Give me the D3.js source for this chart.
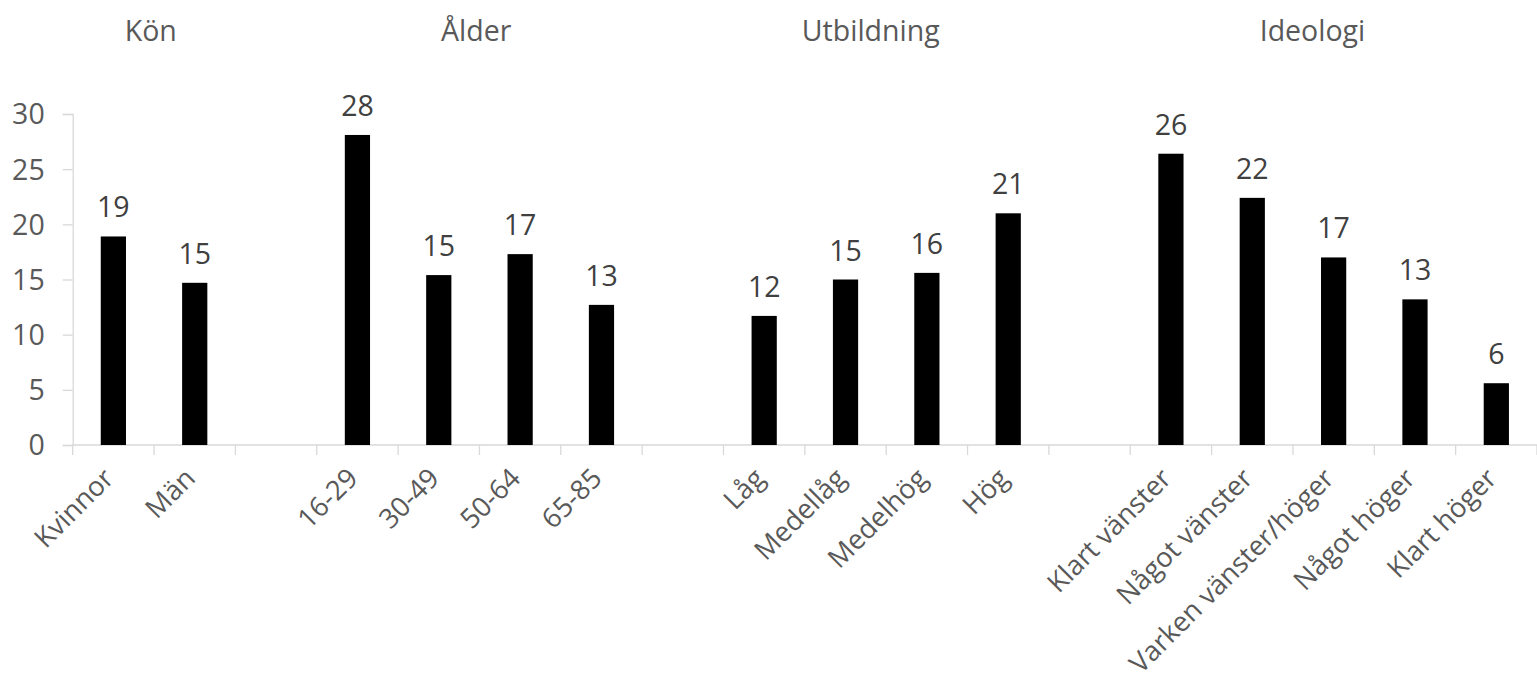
<!DOCTYPE html>
<html>
<head>
<meta charset="utf-8">
<script src="https://cdn.jsdelivr.net/npm/d3@7"></script>
<style>
  html, body { margin: 0; padding: 0; background: #fff; }
  svg { display: block; font-family: "Open Sans", sans-serif; }
</style>
</head>
<body>
<svg id="chart" width="1537" height="683"></svg>
<script>
// ---- data ----
const categories = ["Kvinnor", "Män", "", "16-29", "30-49", "50-64", "65-85", "",
  "Låg", "Medellåg", "Medelhög", "Hög", "",
  "Klart vänster", "Något vänster", "Varken vänster/höger", "Något höger", "Klart höger"];
const values = [18.9, 14.7, null, 28.1, 15.4, 17.3, 12.7, null,
  11.7, 15.0, 15.6, 21.0, null,
  26.4, 22.4, 17.0, 13.2, 5.6];
const yTicks = [0, 5, 10, 15, 20, 25, 30];
const groupTitles = ["Kön", "Ålder", "Utbildning", "Ideologi"];
// position of each group title, in slot units (fractional slot index)
const groupTitleSlots = [0.46, 4.46, 9.31, 14.74];

(function () {
// ---- layout ----
const svg = d3.select("#chart");
const plotLeft = 72.7, plotRight = 1537, plotTop = 114, plotBottom = 445;
const slots = categories.map((c, i) => i);

const x = d3.scaleBand().domain(slots).range([plotLeft, plotRight]).paddingInner(0).paddingOuter(0);
const y = d3.scaleLinear().domain([0, 30]).range([plotBottom, plotTop]);
const xs = d3.scaleLinear().domain([0, slots.length]).range([plotLeft, plotRight]);

const axisColor = "#d9d9d9";
const textColor = "#595959";

// y axis
const yAxis = d3.axisLeft(y).tickValues(yTicks).tickSize(10).tickPadding(18);
const gy = svg.append("g").attr("transform", `translate(${plotLeft},0)`).call(yAxis);
gy.select(".domain").attr("stroke", axisColor).attr("stroke-width", 1.3);
gy.selectAll(".tick line").attr("stroke", axisColor).attr("stroke-width", 1.3);
gy.selectAll(".tick text").attr("fill", textColor).attr("font-size", 28.5)
  .attr("font-family", "Open Sans").attr("dy", "0.35em");

// x axis: ticks at slot boundaries
const boundaries = d3.range(0, slots.length + 1);
const gx = svg.append("g");
gx.append("line").attr("x1", plotLeft).attr("x2", plotRight).attr("y1", plotBottom).attr("y2", plotBottom)
  .attr("stroke", axisColor).attr("stroke-width", 1.3);
gx.selectAll("line.tk").data(boundaries).join("line").attr("class", "tk")
  .attr("x1", d => xs(d)).attr("x2", d => xs(d))
  .attr("y1", plotBottom).attr("y2", plotBottom + 10)
  .attr("stroke", axisColor).attr("stroke-width", 1.3);

// category labels
gx.selectAll("text.cat").data(slots.filter(i => categories[i] !== "")).join("text")
  .attr("class", "cat")
  .attr("transform", i => `translate(${x(i) + x.bandwidth() / 2 + 2},${plotBottom + 35}) rotate(-45)`)
  .attr("text-anchor", "end")
  .attr("fill", textColor)
  .attr("font-size", 27.3)
  .text(i => categories[i]);

// bars
const barW = x.bandwidth() * 0.31;
const barData = slots.filter(i => values[i] !== null);
svg.append("g").selectAll("rect").data(barData).join("rect")
  .attr("x", i => x(i) + (x.bandwidth() - barW) / 2)
  .attr("y", i => y(values[i]))
  .attr("width", barW)
  .attr("height", i => y(0) - y(values[i]))
  .attr("fill", "#000");

// value labels
svg.append("g").selectAll("text").data(barData).join("text")
  .attr("x", i => x(i) + x.bandwidth() / 2)
  .attr("y", i => y(values[i]) - 19)
  .attr("text-anchor", "middle")
  .attr("fill", "#404040")
  .attr("font-size", 28.5)
  .text(i => d3.format(".0f")(values[i]));

// group titles
svg.append("g").selectAll("text").data(groupTitles).join("text")
  .attr("x", (d, i) => xs(groupTitleSlots[i] + 0.5))
  .attr("y", 41)
  .attr("text-anchor", "middle")
  .attr("fill", textColor)
  .attr("font-size", 28.5)
  .text(d => d);
})();
</script>
</body>
</html>
